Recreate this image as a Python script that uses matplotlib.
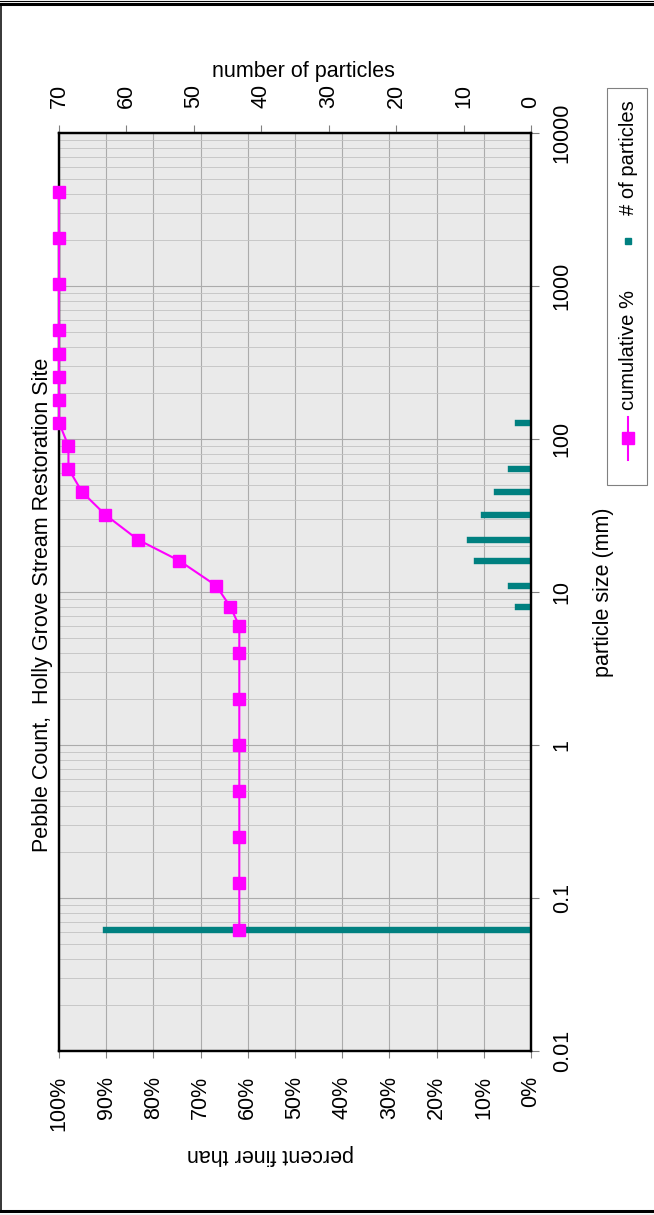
import matplotlib
matplotlib.use("Agg")
import matplotlib.pyplot as plt
from matplotlib.lines import Line2D
from matplotlib.patches import Rectangle

# sieve sizes (mm) and cumulative percent finer
SIZES = [0.062, 0.125, 0.25, 0.5, 1, 2, 4, 6, 8, 11, 16, 22, 32, 45, 64, 90,
         128, 180, 256, 362, 512, 1024, 2048, 4096]
CUM_PCT = [61.8, 61.8, 61.8, 61.8, 61.8, 61.8, 61.8, 61.8, 63.7, 66.7, 74.5,
           83.3, 90.2, 95.1, 98.0, 98.0, 100, 100, 100, 100, 100, 100, 100, 100]

# number of particles per size class
COUNT_SIZES = [0.062, 8, 11, 16, 22, 32, 45, 64, 128]
COUNTS = [63, 2, 3, 8, 9, 7, 5, 3, 2]

PCT_TICKS = [0, 10, 20, 30, 40, 50, 60, 70, 80, 90, 100]
COUNT_TICKS = [0, 10, 20, 30, 40, 50, 60, 70]
SIZE_TICKS = [0.01, 0.1, 1, 10, 100, 1000, 10000]
SIZE_LABELS = ["0.01", "0.1", "1", "10", "100", "1000", "10000"]

TITLE = "Pebble Count,  Holly Grove Stream Restoration Site"
MAGENTA = "#FF00FF"
TEAL = "#008080"

W, H = 654, 1215
plt.rcParams["font.family"] = ["Liberation Sans", "DejaVu Sans"]
FS = 15.5


def fx(px):
    return px / W


def fy(py):
    return 1 - py / H


fig = plt.figure(figsize=(W / 100, H / 100), dpi=100)
ax = fig.add_axes([fx(59), fy(1051), (531 - 59) / W, (1051 - 133) / H])
ax.set_facecolor("#EAEAEA")
ax.set_xlim(100, 0)
ax.set_yscale("log")
ax.set_ylim(0.01, 10000)

ax.set_xticks(PCT_TICKS)
ax.set_xticklabels([f"{v}%" for v in PCT_TICKS], rotation=90, fontsize=FS)
ax.tick_params(axis="x", direction="out", length=5, width=0.8, color="#808080", pad=13)
ax.yaxis.tick_right()
ax.set_yticks(SIZE_TICKS)
ax.set_yticklabels(SIZE_LABELS, rotation=90, va="center", fontsize=FS)
ax.tick_params(axis="y", which="major", direction="out", length=6, width=0.8,
               color="#808080", pad=9)
ax.tick_params(axis="y", which="minor", length=0)
ax.grid(True, which="major", color="#ababab", lw=0.8)
ax.grid(True, which="minor", axis="y", color="#c2c2c2", lw=0.6)
ax.set_axisbelow(True)
for s in ax.spines.values():
    s.set_linewidth(1.6)
    s.set_color("black")

top = ax.twiny()
top.set_xlim(70, 0)
top.patch.set_visible(False)
top.set_xticks(COUNT_TICKS)
top.set_xticklabels([str(v) for v in COUNT_TICKS], rotation=90, fontsize=FS)
top.tick_params(axis="x", direction="out", length=6, width=0.8, color="#808080", pad=12)
for s in top.spines.values():
    s.set_linewidth(1.6)

# particle counts as bars from zero
bars = top.hlines(COUNT_SIZES, 0, COUNTS, color=TEAL, lw=4.6)
bars.set_capstyle("projecting")

# cumulative curve drawn on top, in percent coordinates
top.plot(CUM_PCT, SIZES, "-s", color=MAGENTA, lw=1.5, ms=9,
         transform=ax.transData, clip_on=False, zorder=5)

# titles and axis labels
fig.text(fx(43), fy(605), TITLE, rotation=90, ha="center", va="center", fontsize=FS)
fig.text(fx(303), fy(72), "number of particles", ha="center", va="center", fontsize=FS)
fig.text(fx(603), fy(592), "particle size (mm)", rotation=90, ha="center",
         va="center", fontsize=FS)
fig.text(fx(271), fy(1155), "percent finer than", rotation=180, ha="center",
         va="center", fontsize=FS)

# rotated legend
fig.add_artist(Rectangle((fx(607), fy(485)), fx(647) - fx(607), fy(88) - fy(485),
                         transform=fig.transFigure, fill=False, ec="#808080", lw=0.8))
fig.add_artist(Line2D([fx(628), fx(628)], [fy(460), fy(417)], color=MAGENTA, lw=1.5,
                      transform=fig.transFigure))
fig.add_artist(Line2D([fx(628)], [fy(438)], marker="s", ms=9, color=MAGENTA,
                      transform=fig.transFigure))
fig.text(fx(628), fy(410), "cumulative %", rotation=90, ha="center", va="bottom",
         fontsize=14.5)
fig.add_artist(Line2D([fx(628)], [fy(241)], marker="s", ms=4.2, color=TEAL,
                      transform=fig.transFigure))
fig.text(fx(628), fy(215), "# of particles", rotation=90, ha="center", va="bottom",
         fontsize=14.5)

# outer frame
for y, lw in [(0.5, 0.8), (4, 2.2), (1211, 2.2), (1214.5, 0.8)]:
    fig.add_artist(Line2D([0, 1], [fy(y), fy(y)], color="black", lw=lw,
                          transform=fig.transFigure))
fig.add_artist(Line2D([fx(0.7), fx(0.7)], [fy(5), fy(1210)], color="black", lw=1.1,
                      transform=fig.transFigure))

fig.savefig("out.png", dpi=100)
